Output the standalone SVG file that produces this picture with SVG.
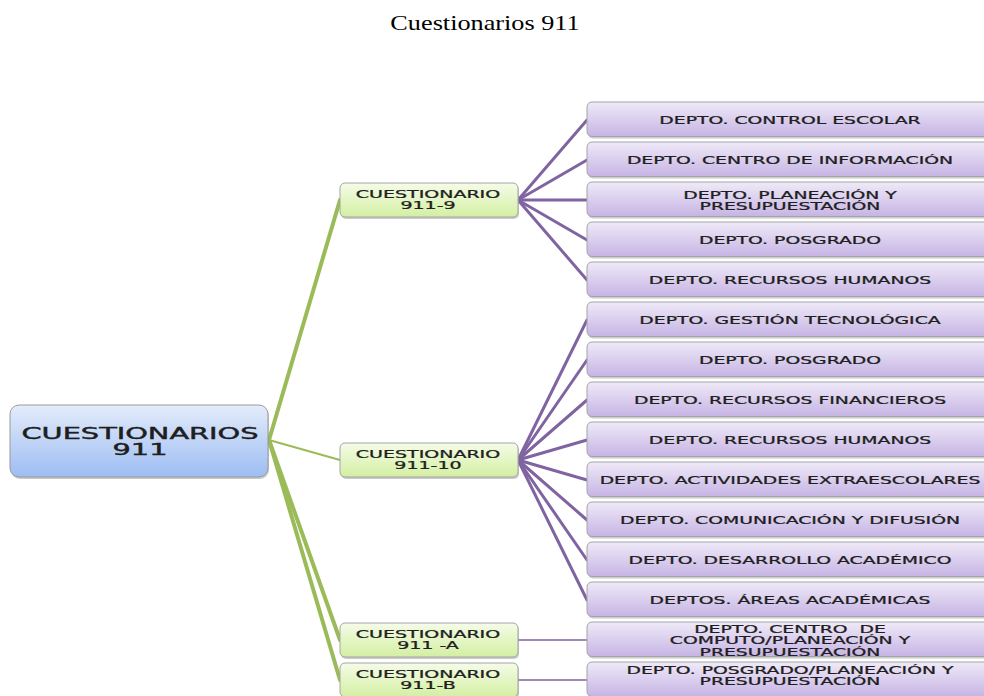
<svg xmlns="http://www.w3.org/2000/svg" width="984" height="696" viewBox="0 0 984 696">
  <defs>
    <linearGradient id="gBlue" x1="0" y1="0" x2="0" y2="1">
      <stop offset="0" stop-color="#e4ecfa"/>
      <stop offset="1" stop-color="#9dbdf3"/>
    </linearGradient>
    <linearGradient id="gGreen" x1="0" y1="0" x2="0" y2="1">
      <stop offset="0" stop-color="#f5fce8"/>
      <stop offset="1" stop-color="#d3efa2"/>
    </linearGradient>
    <linearGradient id="gPurple" x1="0" y1="0" x2="0" y2="1">
      <stop offset="0" stop-color="#efeaf8"/>
      <stop offset="1" stop-color="#c6b4e4"/>
    </linearGradient>
  </defs>
  <style>
    .title { font-family: "Liberation Serif", "Times New Roman", serif; font-size: 21px; fill: #000; }
    .lbl { font-family: "DejaVu Sans", Verdana, sans-serif; font-size: 10px; fill: #1e1e1e; stroke: #1e1e1e; stroke-width: 0.25; text-anchor: middle; }
    .root-lbl { font-family: "DejaVu Sans", Verdana, sans-serif; font-size: 15px; fill: #1e1e1e; stroke: #1e1e1e; stroke-width: 0.4; text-anchor: middle; }
    .shadow { fill: #8c8c8c; opacity: 0.45; }
    .root { fill: url(#gBlue); stroke: #9a9a9a; stroke-width: 1; }
    .mid { fill: url(#gGreen); stroke: #a4a4a4; stroke-width: 1; }
    .leaf { fill: url(#gPurple); stroke: #a4a4a4; stroke-width: 1; }
    .g-link { stroke: #9bbb59; fill: none; stroke-linecap: round; }
    .p-link { stroke: #8064a2; fill: none; stroke-linecap: round; }
  </style>

  <rect width="984" height="696" fill="#ffffff"/>

  <text class="title" transform="translate(485 30) scale(1.25 1)" text-anchor="middle">Cuestionarios 911</text>

  <!-- connectors -->
  <g id="connectors">
    <line class="g-link" x1="269" y1="440" x2="340" y2="200" stroke-width="4"/>
    <line class="g-link" x1="269" y1="440" x2="340" y2="460" stroke-width="2"/>
    <line class="g-link" x1="269" y1="440" x2="340" y2="640" stroke-width="4"/>
    <line class="g-link" x1="269" y1="440" x2="340" y2="680" stroke-width="4"/>

    <g stroke-width="3">
      <line class="p-link" x1="518" y1="200" x2="587" y2="120"/>
      <line class="p-link" x1="518" y1="200" x2="587" y2="160"/>
      <line class="p-link" x1="518" y1="200" x2="587" y2="200"/>
      <line class="p-link" x1="518" y1="200" x2="587" y2="240"/>
      <line class="p-link" x1="518" y1="200" x2="587" y2="280"/>

      <line class="p-link" x1="518" y1="460" x2="587" y2="320"/>
      <line class="p-link" x1="518" y1="460" x2="587" y2="360"/>
      <line class="p-link" x1="518" y1="460" x2="587" y2="400"/>
      <line class="p-link" x1="518" y1="460" x2="587" y2="440"/>
      <line class="p-link" x1="518" y1="460" x2="587" y2="480"/>
      <line class="p-link" x1="518" y1="460" x2="587" y2="520"/>
      <line class="p-link" x1="518" y1="460" x2="587" y2="560"/>
      <line class="p-link" x1="518" y1="460" x2="587" y2="600"/>
    </g>
    <line class="p-link" x1="518" y1="640" x2="587" y2="640" stroke-width="1.5"/>
    <line class="p-link" x1="518" y1="680" x2="587" y2="680" stroke-width="1.5"/>
  </g>

  <!-- root -->
  <g id="root">
    <rect class="shadow" x="11" y="407" width="258" height="72" rx="9"/>
    <rect class="root" x="10" y="405" width="258" height="72" rx="9"/>
    <text class="root-lbl" transform="translate(140 438.5) scale(1.92 1)">CUESTIONARIOS</text>
    <text class="root-lbl" transform="translate(140 454.5) scale(1.92 1)">911</text>
  </g>

  <!-- questionnaires -->
  <g id="q911-9">
    <rect class="shadow" x="341" y="185" width="178" height="34" rx="5"/>
    <rect class="mid" x="340" y="183" width="178" height="34" rx="5"/>
    <text class="lbl" transform="translate(428 197.5) scale(1.9 1)">CUESTIONARIO</text>
    <text class="lbl" transform="translate(428 208.5) scale(1.9 1)">911-9</text>
  </g>
  <g id="q911-10">
    <rect class="shadow" x="341" y="445" width="178" height="34" rx="5"/>
    <rect class="mid" x="340" y="443" width="178" height="34" rx="5"/>
    <text class="lbl" transform="translate(428 457.5) scale(1.9 1)">CUESTIONARIO</text>
    <text class="lbl" transform="translate(428 468.5) scale(1.9 1)">911-10</text>
  </g>
  <g id="q911-A">
    <rect class="shadow" x="341" y="625" width="178" height="34" rx="5"/>
    <rect class="mid" x="340" y="623" width="178" height="34" rx="5"/>
    <text class="lbl" transform="translate(428 637.5) scale(1.9 1)">CUESTIONARIO</text>
    <text class="lbl" transform="translate(428 648.5) scale(1.9 1)">911 -A</text>
  </g>
  <g id="q911-B">
    <rect class="shadow" x="341" y="665" width="178" height="34" rx="5"/>
    <rect class="mid" x="340" y="663" width="178" height="34" rx="5"/>
    <text class="lbl" transform="translate(428 677.5) scale(1.9 1)">CUESTIONARIO</text>
    <text class="lbl" transform="translate(428 688.5) scale(1.9 1)">911-B</text>
  </g>

  <!-- departments -->
  <g id="d-control-escolar">
    <rect class="shadow" x="588" y="104" width="410" height="34.5" rx="5"/>
    <rect class="leaf" x="587" y="102" width="410" height="34.5" rx="5"/>
    <text class="lbl" transform="translate(790 124) scale(1.88 1)">DEPTO. CONTROL ESCOLAR</text>
  </g>
  <g id="d-centro-informacion">
    <rect class="shadow" x="588" y="144" width="410" height="34.5" rx="5"/>
    <rect class="leaf" x="587" y="142" width="410" height="34.5" rx="5"/>
    <text class="lbl" transform="translate(790 164) scale(1.88 1)">DEPTO. CENTRO DE INFORMACIÓN</text>
  </g>
  <g id="d-planeacion">
    <rect class="shadow" x="588" y="184" width="410" height="34.5" rx="5"/>
    <rect class="leaf" x="587" y="182" width="410" height="34.5" rx="5"/>
    <text class="lbl" transform="translate(790 199) scale(1.88 1)">DEPTO. PLANEACIÓN Y</text>
    <text class="lbl" transform="translate(790 210) scale(1.88 1)">PRESUPUESTACIÓN</text>
  </g>
  <g id="d-posgrado-9">
    <rect class="shadow" x="588" y="224" width="410" height="34.5" rx="5"/>
    <rect class="leaf" x="587" y="222" width="410" height="34.5" rx="5"/>
    <text class="lbl" transform="translate(790 244) scale(1.88 1)">DEPTO. POSGRADO</text>
  </g>
  <g id="d-rh-9">
    <rect class="shadow" x="588" y="264" width="410" height="34.5" rx="5"/>
    <rect class="leaf" x="587" y="262" width="410" height="34.5" rx="5"/>
    <text class="lbl" transform="translate(790 284) scale(1.88 1)">DEPTO. RECURSOS HUMANOS</text>
  </g>
  <g id="d-gestion">
    <rect class="shadow" x="588" y="304" width="410" height="34.5" rx="5"/>
    <rect class="leaf" x="587" y="302" width="410" height="34.5" rx="5"/>
    <text class="lbl" transform="translate(790 324) scale(1.88 1)">DEPTO. GESTIÓN TECNOLÓGICA</text>
  </g>
  <g id="d-posgrado-10">
    <rect class="shadow" x="588" y="344" width="410" height="34.5" rx="5"/>
    <rect class="leaf" x="587" y="342" width="410" height="34.5" rx="5"/>
    <text class="lbl" transform="translate(790 364) scale(1.88 1)">DEPTO. POSGRADO</text>
  </g>
  <g id="d-financieros">
    <rect class="shadow" x="588" y="384" width="410" height="34.5" rx="5"/>
    <rect class="leaf" x="587" y="382" width="410" height="34.5" rx="5"/>
    <text class="lbl" transform="translate(790 404) scale(1.88 1)">DEPTO. RECURSOS FINANCIEROS</text>
  </g>
  <g id="d-rh-10">
    <rect class="shadow" x="588" y="424" width="410" height="34.5" rx="5"/>
    <rect class="leaf" x="587" y="422" width="410" height="34.5" rx="5"/>
    <text class="lbl" transform="translate(790 444) scale(1.88 1)">DEPTO. RECURSOS HUMANOS</text>
  </g>
  <g id="d-extraescolares">
    <rect class="shadow" x="588" y="464" width="410" height="34.5" rx="5"/>
    <rect class="leaf" x="587" y="462" width="410" height="34.5" rx="5"/>
    <text class="lbl" transform="translate(790 484) scale(1.88 1)">DEPTO. ACTIVIDADES EXTRAESCOLARES</text>
  </g>
  <g id="d-comunicacion">
    <rect class="shadow" x="588" y="504" width="410" height="34.5" rx="5"/>
    <rect class="leaf" x="587" y="502" width="410" height="34.5" rx="5"/>
    <text class="lbl" transform="translate(790 524) scale(1.88 1)">DEPTO. COMUNICACIÓN Y DIFUSIÓN</text>
  </g>
  <g id="d-desarrollo">
    <rect class="shadow" x="588" y="544" width="410" height="34.5" rx="5"/>
    <rect class="leaf" x="587" y="542" width="410" height="34.5" rx="5"/>
    <text class="lbl" transform="translate(790 564) scale(1.88 1)">DEPTO. DESARROLLO ACADÉMICO</text>
  </g>
  <g id="d-areas">
    <rect class="shadow" x="588" y="584" width="410" height="34.5" rx="5"/>
    <rect class="leaf" x="587" y="582" width="410" height="34.5" rx="5"/>
    <text class="lbl" transform="translate(790 604) scale(1.88 1)">DEPTOS. ÁREAS ACADÉMICAS</text>
  </g>
  <g id="d-computo">
    <rect class="shadow" x="588" y="624" width="410" height="34.5" rx="5"/>
    <rect class="leaf" x="587" y="622" width="410" height="34.5" rx="5"/>
    <text class="lbl" transform="translate(790 632.5) scale(1.88 1)" xml:space="preserve">DEPTO. CENTRO  DE</text>
    <text class="lbl" transform="translate(790 644) scale(1.88 1)">COMPUTO/PLANEACIÓN Y</text>
    <text class="lbl" transform="translate(790 655.5) scale(1.88 1)">PRESUPUESTACIÓN</text>
  </g>
  <g id="d-posgrado-planeacion">
    <rect class="shadow" x="588" y="664" width="410" height="34.5" rx="5"/>
    <rect class="leaf" x="587" y="662" width="410" height="34.5" rx="5"/>
    <text class="lbl" transform="translate(790 673.5) scale(1.88 1)">DEPTO. POSGRADO/PLANEACIÓN Y</text>
    <text class="lbl" transform="translate(790 685) scale(1.88 1)">PRESUPUESTACIÓN</text>
  </g>
</svg>
